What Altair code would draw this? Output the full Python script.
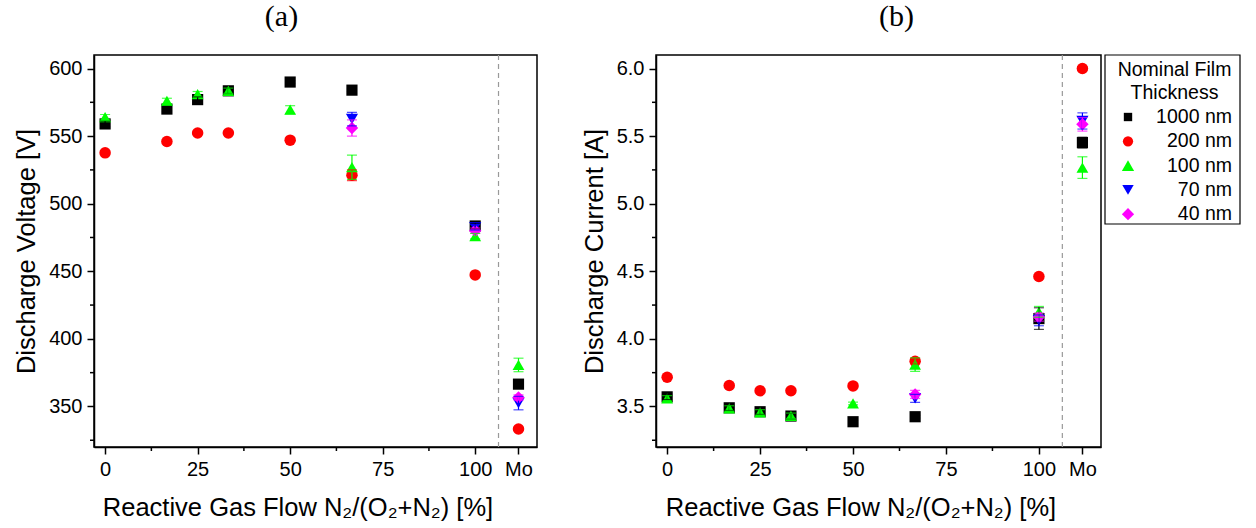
import altair as alt
import pandas as pd

# ---------------- data ----------------
x_all = [0, 16.7, 25, 33.3, 50, 66.7, 100, 111.7]   # 111.7 = "Mo" position
x_sub = [66.7, 100, 111.7]
MO_POS = 111.7
SEP_POS = 106.3

x_major = [0, 25, 50, 75, 100, MO_POS]
x_minor = [12.5, 37.5, 62.5, 87.5]
v_major = [350, 400, 450, 500, 550, 600]
v_minor = [325, 375, 425, 475, 525, 575]
c_major = [3.5, 4.0, 4.5, 5.0, 5.5, 6.0]
c_minor = [3.25, 3.75, 4.25, 4.75, 5.25, 5.75]

series = ["1000 nm", "200 nm", "100 nm", "70 nm", "40 nm"]
colors = ["#000000", "#FF0000", "#00FF00", "#0000FF", "#FF00FF"]
shapes = ["square", "circle", "triangle-up", "triangle-down", "diamond"]
msizes = [125, 155, 230, 190, 240]
lsizes = [70, 105, 150, 130, 150]

# Discharge voltage [V]
v_1000 = [559, 570, 577, 583.5, 590, 584, 483.5, 366.5]
v_1000_err = [2, 2, 2, 2, 1, 1, 2, 2]
v_200 = [537.6, 546, 552.3, 552.3, 547, 521, 447.3, 333.3]
v_200_err = [1, 1, 1, 1, 1, 4, 1, 1]
v_100 = [564, 576, 581, 583.5, 569.5, 527, 476, 380.7]
v_100_err = [2, 2, 2, 2, 3, 9, 2, 5]
v_70 = [562.6, 482.5, 352.5]
v_70_err = [5, 2, 5]
v_40 = [556, 480, 356.6]
v_40_err = [6, 2, 2]

# Discharge current [A]
c_1000 = [3.571, 3.49, 3.461, 3.429, 3.387, 3.424, 4.15, 5.452]
c_1000_err = [0.02, 0.02, 0.02, 0.02, 0.01, 0.01, 0.08, 0.04]
c_200 = [3.716, 3.655, 3.616, 3.616, 3.652, 3.834, 4.461, 6.0]
c_200_err = [0.01, 0.01, 0.01, 0.01, 0.01, 0.02, 0.01, 0.01]
c_100 = [3.56, 3.485, 3.456, 3.431, 3.522, 3.81, 4.2, 5.267]
c_100_err = [0.02, 0.02, 0.02, 0.02, 0.01, 0.05, 0.04, 0.08]
c_70 = [3.56, 4.137, 5.612]
c_70_err = [0.03, 0.04, 0.06]
c_40 = [3.589, 4.161, 5.587]
c_40_err = [0.03, 0.03, 0.05]


def build(vals, errs):
    rows = []
    for s, xs, ys, es in zip(series,
                             [x_all, x_all, x_all, x_sub, x_sub],
                             vals, errs):
        for x, y, e in zip(xs, ys, es):
            rows.append({"x": x, "y": y, "lo": y - e, "hi": y + e, "series": s})
    return pd.DataFrame(rows)


df_v = build([v_1000, v_200, v_100, v_70, v_40],
             [v_1000_err, v_200_err, v_100_err, v_70_err, v_40_err])
df_c = build([c_1000, c_200, c_100, c_70, c_40],
             [c_1000_err, c_200_err, c_100_err, c_70_err, c_40_err])

FONT = "Liberation Sans"
TFONT = "Liberation Serif"
H = 392


def panel(df, ydom, ymajor, yminor, ytitle, yfmt, title, title_dx, width, legend=False):
    color = alt.Color("series:N", scale=alt.Scale(domain=series, range=colors), legend=None)
    shape = alt.Shape("series:N", scale=alt.Scale(domain=series, range=shapes), legend=None)
    size = alt.Size("series:N", scale=alt.Scale(domain=series, range=msizes), legend=None)

    xenc = alt.X(
        "x:Q",
        scale=alt.Scale(domain=[-3, 116.7], nice=False, zero=False),
        axis=alt.Axis(
            values=x_major,
            labelExpr=f"datum.value == {MO_POS} ? 'Mo' : datum.label",
            tickSize=7,
            title="Reactive Gas Flow N₂/(O₂+N₂) [%]",
            titleX=width / 2 - 18,
            grid=False,
        ),
    )
    yenc = alt.Y(
        "y:Q",
        scale=alt.Scale(domain=ydom, nice=False, zero=False),
        axis=alt.Axis(values=ymajor, format=yfmt, tickSize=7, title=ytitle, grid=False),
    )

    base = alt.Chart(df)
    sep = alt.Chart(pd.DataFrame({"x": [SEP_POS]})).mark_rule(
        color="#999999", strokeDash=[5, 4], strokeWidth=1.2
    ).encode(x="x:Q")
    xmin = alt.Chart(pd.DataFrame({"x": x_minor})).mark_rule(
        color="black", strokeWidth=1.5
    ).encode(x="x:Q", y=alt.value(H), y2=alt.value(H + 4))
    ymin = alt.Chart(pd.DataFrame({"y": yminor})).mark_rule(
        color="black", strokeWidth=1.5
    ).encode(y="y:Q", x=alt.value(0), x2=alt.value(-4))
    pts = base.mark_point(filled=True, opacity=1, strokeWidth=0).encode(
        x=xenc, y=yenc, color=color, shape=shape, size=size
    )
    bars = base.mark_rule(strokeWidth=1.2).encode(
        x="x:Q", y="lo:Q", y2="hi:Q", color=color
    )
    cap_lo = base.mark_tick(orient="horizontal", size=10, thickness=1.2).encode(
        x="x:Q", y="lo:Q", color=color
    )
    cap_hi = base.mark_tick(orient="horizontal", size=10, thickness=1.2).encode(
        x="x:Q", y="hi:Q", color=color
    )
    layers = [pts, sep, xmin, ymin, bars, cap_lo, cap_hi]

    if legend:
        lx0 = width + 4
        lw = 135
        one = pd.DataFrame({"k": [0]})
        box = alt.Chart(one).mark_rect(fill="white", stroke="black", strokeWidth=1.2).encode(
            x=alt.value(lx0), x2=alt.value(lx0 + lw), y=alt.value(0), y2=alt.value(169)
        )
        layers.append(box)
        for i, line in enumerate(["Nominal Film", "Thickness"]):
            layers.append(
                alt.Chart(pd.DataFrame({"t": [line]})).mark_text(
                    font=FONT, fontSize=19.5, align="center", baseline="middle", color="black"
                ).encode(text="t:N", x=alt.value(lx0 + lw / 2 + 2), y=alt.value(15 + i * 23))
            )
        for i, s in enumerate(series):
            yy = 62 + i * 24.3
            layers.append(
                alt.Chart(pd.DataFrame({"t": [s]})).mark_point(
                    filled=True, opacity=1, strokeWidth=0, shape=shapes[i],
                    size=lsizes[i], color=colors[i]
                ).encode(x=alt.value(lx0 + 23), y=alt.value(yy))
            )
            layers.append(
                alt.Chart(pd.DataFrame({"t": [s]})).mark_text(
                    font=FONT, fontSize=19.5, align="right", baseline="middle", color="black"
                ).encode(text="t:N", x=alt.value(lx0 + 127), y=alt.value(yy))
            )

    return alt.layer(*layers).properties(
        width=width,
        height=H,
        title=alt.TitleParams(
            title, font=TFONT, fontSize=30, fontWeight="normal", color="black",
            anchor="middle", frame="group", dx=title_dx, offset=22
        ),
    )


left = panel(df_v, [320, 610], v_major, v_minor,
             "Discharge Voltage [V]", "d", "(a)", -34, 443)
right = panel(df_c, [3.2, 6.1], c_major, c_minor,
              "Discharge Current [A]", ".1f", "(b)", 18, 445, legend=True)

chart = alt.hconcat(left, right, spacing=43).properties(
    padding={"left": 13, "top": 1, "right": 5, "bottom": 0}
).configure_view(
    stroke="black", strokeWidth=1.5
).configure_axis(
    labelFont=FONT, titleFont=FONT, labelFontSize=20, titleFontSize=25.5,
    titleFontWeight="normal", labelColor="black", titleColor="black",
    domainColor="black", domainWidth=1.5, tickColor="black", tickWidth=1.5,
    labelPadding=5, titlePadding=9
).configure_axisX(
    titlePadding=16
)

chart.save("out.html", embed_options={"renderer": "svg", "actions": False})
